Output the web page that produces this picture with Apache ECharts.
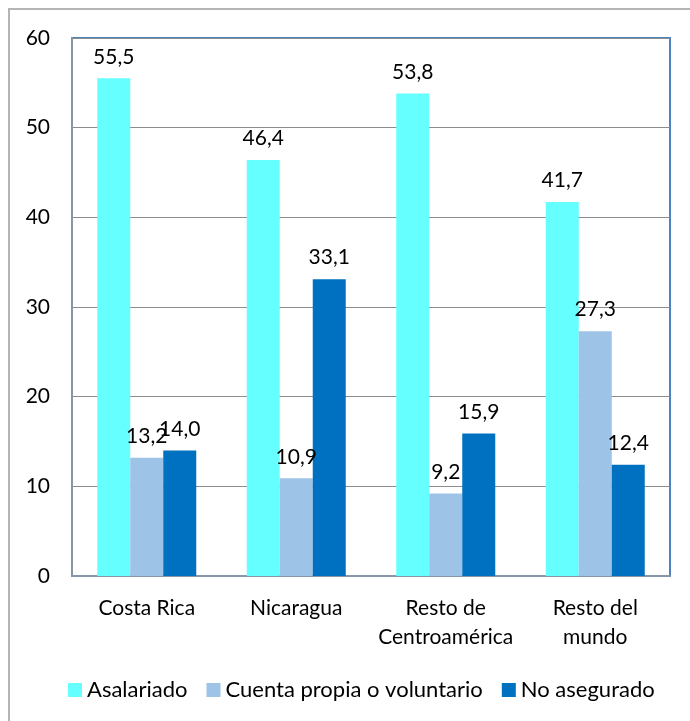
<!DOCTYPE html>
<html><head><meta charset="utf-8">
<script src="https://cdn.jsdelivr.net/npm/echarts@6/dist/echarts.min.js"></script>
<style>html,body{margin:0;padding:0;background:#fff}#c{width:690px;height:721px}</style>
</head><body><div id="c"></div>
<script>
const categories = ['Costa Rica', 'Nicaragua', 'Resto de\nCentroamérica', 'Resto del\nmundo'];
const seriesNames = ['Asalariado', 'Cuenta propia o voluntario', 'No asegurado'];
const asalariado = [55.5, 46.4, 53.8, 41.7];
const cuentaPropia = [13.2, 10.9, 9.2, 27.3];
const noAsegurado = [14.0, 33.1, 15.9, 12.4];
const yTicks = [0, 10, 20, 30, 40, 50, 60];
const colors = ['#66FFFF', '#9DC3E6', '#0070C0'];
const FONT = 'Lato, "Open Sans", sans-serif';
const FS = 21;

const chart = echarts.init(document.getElementById('c'));
const fmt = p => p.value.toFixed(1).replace('.', ',');
const mk = (name, data, color) => ({
  name, type: 'bar', data, barWidth: 33, barGap: '0%',
  itemStyle: { color },
  label: { show: true, position: 'top', distance: 11, formatter: fmt, color: '#000', fontSize: FS, fontFamily: FONT }
});
chart.setOption({
  animation: false,
  textStyle: { fontFamily: FONT },
  graphic: [{ type: 'rect', shape: { x: 9, y: 9, width: 700, height: 730 }, style: { fill: 'none', stroke: '#b4b4b4', lineWidth: 2 }, silent: true, z: -1 }],
  grid: { left: 72, right: 20, top: 38, bottom: 145, show: true, borderColor: '#4F81BD', borderWidth: 2, backgroundColor: 'transparent' },
  legend: {
    bottom: 15, left: 63, itemWidth: 14, itemHeight: 14, itemGap: 19,
    icon: 'rect', textStyle: { fontSize: 22, color: '#000', fontFamily: FONT },
    data: seriesNames
  },
  xAxis: {
    type: 'category', data: categories,
    axisLine: { lineStyle: { color: '#8796A8', width: 2 } },
    axisTick: { show: false },
    axisLabel: { color: '#000', fontSize: FS, lineHeight: 29, margin: 18, fontFamily: FONT, interval: 0 }
  },
  yAxis: {
    type: 'value', min: yTicks[0], max: yTicks[yTicks.length - 1], interval: 10,
    axisLine: { show: true, lineStyle: { color: '#8796A8', width: 2 } },
    axisTick: { show: false },
    splitLine: { lineStyle: { color: '#8c8c8c', width: 1 } },
    axisLabel: { color: '#000', fontSize: FS, margin: 22, fontFamily: FONT }
  },
  series: [mk(seriesNames[0], asalariado, colors[0]), mk(seriesNames[1], cuentaPropia, colors[1]), mk(seriesNames[2], noAsegurado, colors[2])]
});
</script></body></html>
